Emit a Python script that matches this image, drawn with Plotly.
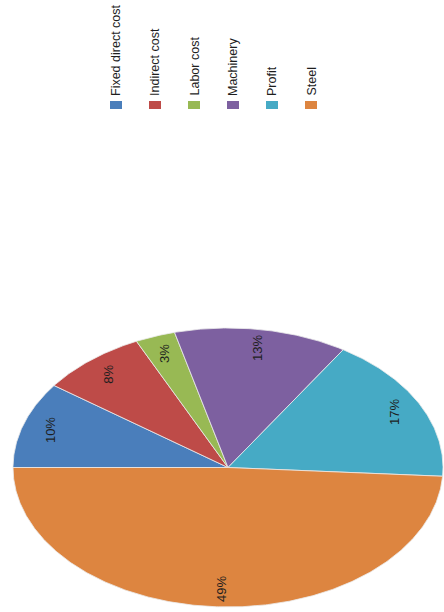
import numpy as np
import plotly.graph_objects as go

# Cost breakdown shares (percent)
categories = ["Fixed direct cost", "Indirect cost", "Labor cost", "Machinery", "Profit", "Steel"]
shares = [10, 8, 3, 13, 17, 49]
colors = ["#4A7EBB", "#BE4B48", "#98B954", "#7D60A0", "#46AAC5", "#DD8540"]

W, H = 444, 612
# Elliptical pie geometry in page pixels
CX, CY = 228, 467.5
RX, RY = 215, 139.5
START_DEG = 180          # first slice starts at 9 o'clock, runs clockwise
LABEL_R = 0.87           # radial position of the percentage labels

FONT = "Liberation Sans, Arial, sans-serif"

fig = go.Figure()
total = float(sum(shares))
cum = 0.0
for name, v, col in zip(categories, shares, colors):
    a0 = START_DEG - 360.0 * cum / total
    a1 = START_DEG - 360.0 * (cum + v) / total
    n = max(int(abs(a1 - a0) * 2), 12)
    t = np.radians(np.linspace(a0, a1, n))
    xs = np.concatenate([[CX], CX + RX * np.cos(t), [CX]])
    ys = np.concatenate([[CY], CY - RY * np.sin(t), [CY]])
    fig.add_trace(go.Scatter(
        x=xs, y=ys, mode="lines", fill="toself", fillcolor=col,
        line=dict(color="rgba(235,235,235,0.8)", width=1),
        name=name, showlegend=False, hoverinfo="name",
    ))
    mid = np.radians((a0 + a1) / 2)
    fig.add_annotation(
        x=CX + LABEL_R * RX * np.cos(mid), y=CY - LABEL_R * RY * np.sin(mid),
        text=f"{round(100 * v / total)}%", textangle=-90, showarrow=False,
        xanchor="center", yanchor="middle",
        font=dict(family=FONT, size=13, color="#1e1e1e"),
    )
    cum += v

# Rotated legend along the top
LEG_X0, LEG_DX = 116, 39
LEG_TEXT_Y, LEG_KEY_Y = 98, 105
for i, (name, col) in enumerate(zip(categories, colors)):
    lx = LEG_X0 + i * LEG_DX
    fig.add_shape(type="rect", x0=lx - 6, x1=lx + 6, y0=LEG_KEY_Y - 4, y1=LEG_KEY_Y + 4,
                  fillcolor=col, line=dict(width=0))
    fig.add_annotation(
        x=lx, y=LEG_TEXT_Y, text=name, textangle=-90, showarrow=False,
        xanchor="center", yanchor="bottom",
        font=dict(family=FONT, size=12.5, color="#1e1e1e"),
    )

fig.update_layout(
    width=W, height=H, autosize=False,
    margin=dict(l=0, r=0, t=0, b=0),
    paper_bgcolor="white", plot_bgcolor="white",
    xaxis=dict(range=[0, W], visible=False, fixedrange=True),
    yaxis=dict(range=[H, 0], visible=False, fixedrange=True),
    showlegend=False,
)

fig.write_html("out.html")
